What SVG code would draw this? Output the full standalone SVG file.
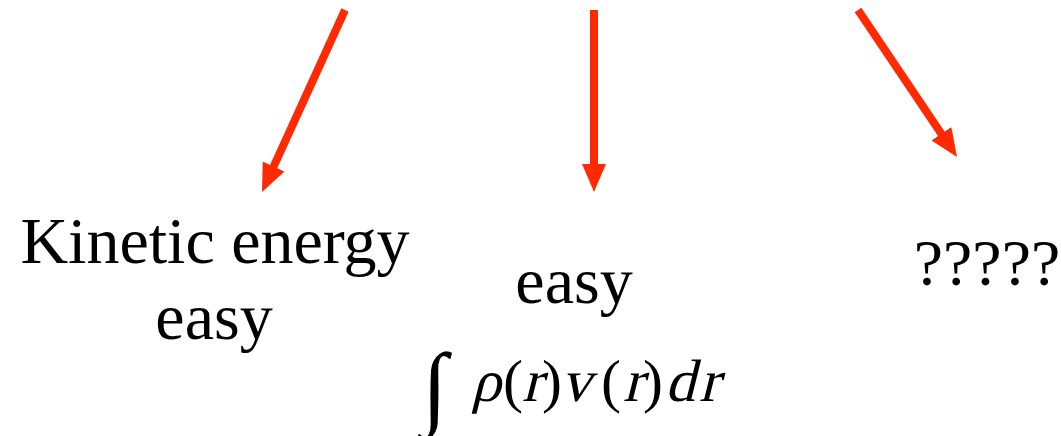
<svg xmlns="http://www.w3.org/2000/svg" width="1061" height="436" viewBox="0 0 1061 436">
  <style>
    .t { font-family: "Liberation Serif", "Times New Roman", serif; font-size: 66px; fill: #000; text-anchor: middle; }
    .m { font-family: "Liberation Serif", "Times New Roman", serif; font-size: 60px; fill: #000; }
    .arr { stroke: #ff2a00; stroke-width: 8; fill: none; }
  </style>
  <defs>
    <marker id="head" markerUnits="userSpaceOnUse" markerWidth="30" markerHeight="26" refX="2" refY="13" orient="auto" viewBox="0 0 30 26">
      <path d="M0,1 L28,13 L0,25 z" fill="#ff2a00"/>
    </marker>
  </defs>
  <g id="connectors">
    <line class="arr" x1="345" y1="10" x2="272.8" y2="168.3" marker-end="url(#head)"/>
    <line class="arr" x1="594" y1="10" x2="594" y2="166" marker-end="url(#head)"/>
    <line class="arr" x1="858" y1="10" x2="942.5" y2="135.4" marker-end="url(#head)"/>
  </g>
  <g id="kinetic">
    <text class="t" x="215" y="263">Kinetic energy</text>
    <text class="t" x="214" y="339">easy</text>
  </g>
  <g id="potential">
    <text class="t" x="574" y="303">easy</text>
    <g id="formula">
      <text class="m" style="font-size:92px" x="422" y="417">∫</text>
      <text class="m" transform="translate(471,401) skewX(-14)">ρ</text>
      <text class="m" x="503" y="401">(</text>
      <text class="m" transform="translate(522,401) skewX(-14)">r</text>
      <text class="m" x="542" y="401">)</text>
      <text class="m" transform="translate(561,401) skewX(-14)">v</text>
      <text class="m" x="601" y="401">(</text>
      <text class="m" transform="translate(623,401) skewX(-14)">r</text>
      <text class="m" x="643" y="401">)</text>
      <text class="m" transform="translate(665,401) skewX(-14)">d</text>
      <text class="m" transform="translate(699,401) skewX(-14)">r</text>
    </g>
  </g>
  <g id="unknown">
    <text class="t" x="987" y="285">?????</text>
  </g>
</svg>
